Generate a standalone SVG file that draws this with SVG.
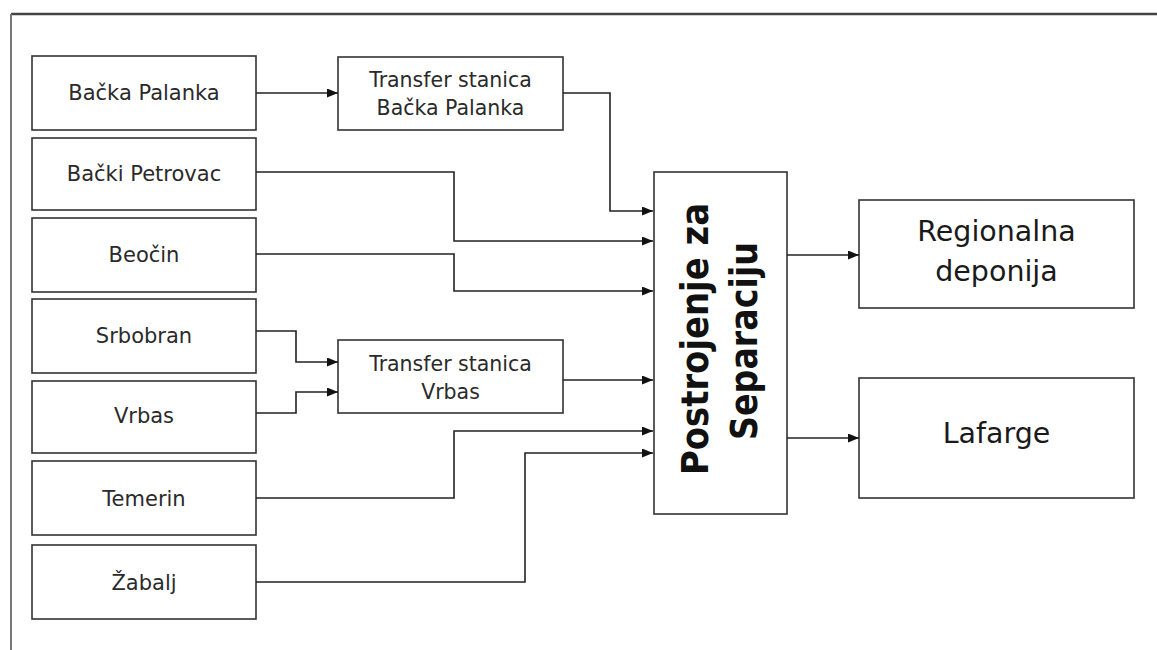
<svg xmlns="http://www.w3.org/2000/svg" width="1157" height="650" viewBox="0 0 1157 650">
<style>
.box{fill:#fff;stroke:#333;stroke-width:1.6}
.lbl{font-family:"DejaVu Sans",Verdana,sans-serif;font-size:21px;fill:#2a2a2a;text-anchor:middle}
.tl{font-family:"DejaVu Sans",Verdana,sans-serif;font-size:20.5px;fill:#2a2a2a;text-anchor:middle}
.big{font-family:"DejaVu Sans",Verdana,sans-serif;font-size:28.5px;fill:#1a1a1a;text-anchor:middle}
.bold{font-family:"DejaVu Sans",Verdana,sans-serif;font-size:37px;font-weight:bold;fill:#111;text-anchor:middle}
.con{fill:none;stroke:#222;stroke-width:1.6;marker-end:url(#ah)}
.con2{fill:none;stroke:#222;stroke-width:1.6}
</style>
<defs>
<marker id="ah" markerUnits="userSpaceOnUse" markerWidth="12" markerHeight="10" refX="11" refY="4.5" orient="auto">
<path d="M0,0 L11,4.5 L0,9 z" fill="#111"/>
</marker>
</defs>
<rect width="1157" height="650" fill="#fff"/>
<g id="frame">
<line x1="11" y1="14" x2="1157" y2="14" stroke="#444" stroke-width="2.5"/>
<line x1="11" y1="14" x2="11" y2="650" stroke="#777" stroke-width="2"/>
</g>
<g id="n-backa-palanka"><rect class="box" x="32" y="56" width="224" height="74"/><text class="lbl" x="144" y="100">Bačka Palanka</text></g>
<g id="n-backi-petrovac"><rect class="box" x="32" y="138" width="224" height="72"/><text class="lbl" x="144" y="181">Bački Petrovac</text></g>
<g id="n-beocin"><rect class="box" x="32" y="218" width="224" height="74"/><text class="lbl" x="144" y="262">Beočin</text></g>
<g id="n-srbobran"><rect class="box" x="32" y="299" width="224" height="74"/><text class="lbl" x="144" y="343">Srbobran</text></g>
<g id="n-vrbas"><rect class="box" x="32" y="381" width="224" height="72"/><text class="lbl" x="144" y="423">Vrbas</text></g>
<g id="n-temerin"><rect class="box" x="32" y="461" width="224" height="74"/><text class="lbl" x="144" y="506">Temerin</text></g>
<g id="n-zabalj"><rect class="box" x="32" y="545" width="224" height="74"/><text class="lbl" x="144" y="590">Žabalj</text></g>
<g id="n-transfer-bp"><rect class="box" x="338" y="57" width="225" height="73"/><text class="tl" x="450.5" y="87">Transfer stanica</text><text class="tl" x="450.5" y="115">Bačka Palanka</text></g>
<g id="n-transfer-vrbas"><rect class="box" x="338" y="340" width="225" height="73"/><text class="tl" x="450.5" y="371">Transfer stanica</text><text class="tl" x="450.5" y="399">Vrbas</text></g>
<g id="n-postrojenje"><rect class="box" x="654" y="172" width="133" height="342"/>
<text class="bold" transform="translate(708,339) rotate(-90)" textLength="272" lengthAdjust="spacingAndGlyphs">Postrojenje za</text>
<text class="bold" transform="translate(757,341) rotate(-90)" textLength="198" lengthAdjust="spacingAndGlyphs">Separaciju</text></g>
<g id="n-regionalna"><rect class="box" x="859" y="200" width="275" height="108"/><text class="big" x="996.5" y="241">Regionalna</text><text class="big" x="996.5" y="281">deponija</text></g>
<g id="n-lafarge"><rect class="box" x="859" y="378" width="275" height="120"/><text class="big" x="996.5" y="443">Lafarge</text></g>
<g id="connectors">
<path class="con" d="M256,93 H338"/>
<path class="con" d="M563,93 H610 V211 H653"/>
<path class="con" d="M256,172 H454 V241 H653"/>
<path class="con" d="M256,254 H454 V291 H653"/>
<path class="con" d="M256,331 H296 V362 H338"/>
<path class="con" d="M256,413 H296 V392 H338"/>
<path class="con" d="M563,380 H653"/>
<path class="con" d="M256,498 H454 V431 H653"/>
<path class="con" d="M256,582 H525 V453 H653"/>
<path class="con" d="M787,255 H859"/>
<path class="con" d="M787,438 H859"/>
</g>
</svg>
